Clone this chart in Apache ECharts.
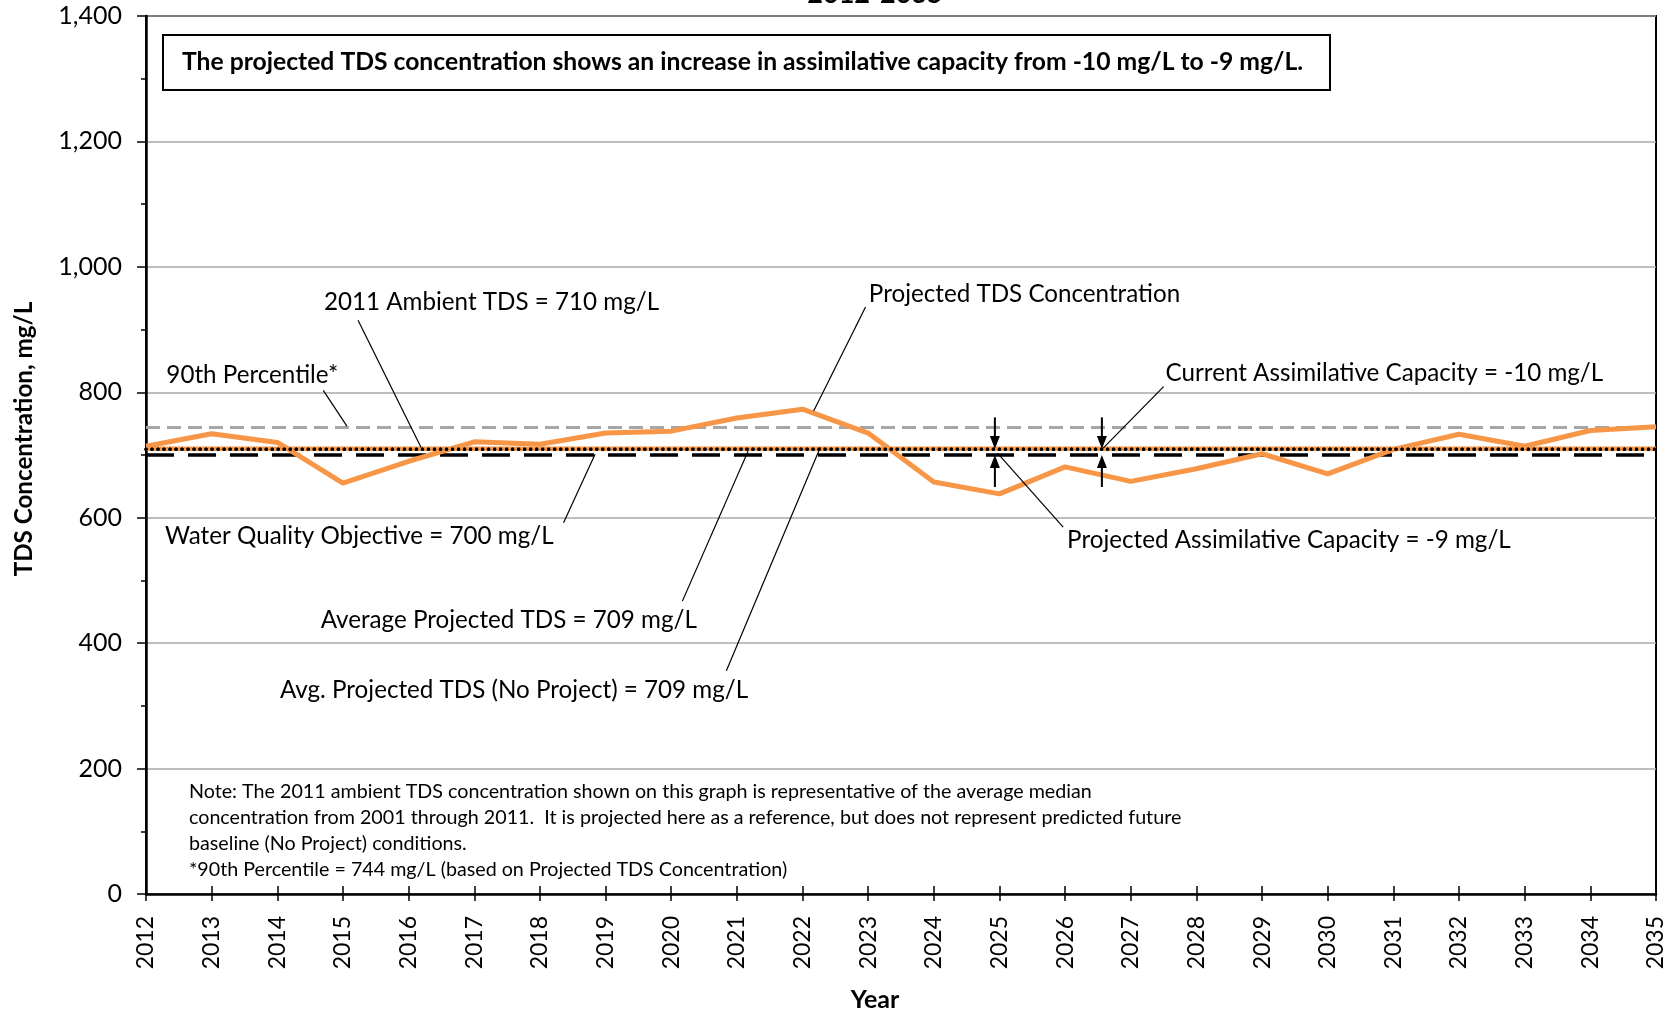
<!DOCTYPE html>
<html><head><meta charset="utf-8">
<script src="https://cdn.jsdelivr.net/npm/echarts@6/dist/echarts.min.js"></script>
<style>html,body{margin:0;padding:0;background:#fff}#c{width:1680px;height:1014px}</style>
</head><body><div id="c"></div>
<script>
// ---------- data ----------
const years = [2012,2013,2014,2015,2016,2017,2018,2019,2020,2021,2022,2023,2024,2025,2026,2027,2028,2029,2030,2031,2032,2033,2034,2035];
const projectedTDS = [714,734,720,655,690,721,717,735,738,759,773,735,657,638,681,658,678,702,670,709,733,714,739,745];
const yTickValues = [0,200,400,600,800,1000,1200,1400];
const percentile90 = 744;
const ambient2011 = 710;
const avgProjected = 709;
const avgNoProject = 709;
const waterQualityObjective = 700;

const chartTitle = '2012-2035';
const xAxisTitle = 'Year';
const yAxisTitle = 'TDS Concentration, mg/L';
const boxText = 'The projected TDS concentration shows an increase in assimilative capacity from -10 mg/L to -9 mg/L.';
const noteLines = [
  'Note: The 2011 ambient TDS concentration shown on this graph is representative of the average median',
  'concentration from 2001 through 2011.  It is projected here as a reference, but does not represent predicted future',
  'baseline (No Project) conditions.',
  '*90th Percentile = 744 mg/L (based on Projected TDS Concentration)'
];
const annotationTexts = [
  '2011 Ambient TDS = 710 mg/L',
  'Projected TDS Concentration',
  '90th Percentile*',
  'Current Assimilative Capacity = -10 mg/L',
  'Water Quality Objective = 700 mg/L',
  'Projected Assimilative Capacity = -9 mg/L',
  'Average Projected TDS = 709 mg/L',
  'Avg. Projected TDS (No Project) = 709 mg/L'
];
// label anchors (left, middle) in data space
const annotationAnchors = [
  [2014.71, 943], [2023.01, 957], [2012.31, 827], [2027.53, 830],
  [2012.29, 570], [2026.03, 564], [2014.66, 436], [2014.04, 325]
];
// leader lines in data space
const leaderLines = [
  [[2015.23, 915], [2016.19, 712]],
  [[2014.70, 803], [2015.06, 746]],
  [[2022.96, 936], [2022.17, 770]],
  [[2018.36, 592], [2018.84, 701]],
  [[2020.17, 467], [2021.17, 706]],
  [[2020.84, 356], [2022.27, 712]],
  [[2027.50, 809], [2026.58, 711]],
  [[2024.97, 703], [2025.97, 585]]
];
// capacity arrows: [year, from, to]
const capacityArrows = [
  [2024.93, 760, 709.5], [2024.93, 649, 700],
  [2026.56, 760, 709.5], [2026.56, 649, 700]
];

// ---------- chart ----------
const FONT = 'Lato';
const chart = echarts.init(document.getElementById('c'), null, {renderer: 'canvas'});
const xMin = years[0], xMax = years[years.length - 1];
const hLine = v => [[xMin, v], [xMax, v]];

const option = {
  animation: false,
  backgroundColor: '#fff',
  grid: {left: 146, right: 24, top: 16, bottom: 120, show: true, borderColor: '#000', borderWidth: 2, containLabel: false},
  xAxis: [{
    type: 'value', min: xMin, max: xMax, interval: 1,
    axisLine: {show: true, onZero: false, lineStyle: {color: '#000', width: 2.5}},
    axisTick: {show: true, inside: false, length: 7, lineStyle: {color: '#000', width: 1.5}},
    axisLabel: {rotate: 90, margin: 22, fontFamily: FONT, fontSize: 23, color: '#000', formatter: v => String(v)},
    splitLine: {show: false}
  }, {
    type: 'value', min: xMin, max: xMax, interval: 1, position: 'bottom',
    axisLine: {show: false},
    axisTick: {show: true, inside: true, length: 8, lineStyle: {color: '#000', width: 1.5}},
    axisLabel: {show: false}, splitLine: {show: false}
  }],
  yAxis: {
    type: 'value', min: yTickValues[0], max: yTickValues[yTickValues.length - 1], interval: 200,
    axisLine: {show: true, onZero: false, lineStyle: {color: '#000', width: 2.5}},
    axisTick: {show: true, inside: false, length: 9, lineStyle: {color: '#000', width: 1.5}},
    minorTick: {show: true, splitNumber: 2, length: 5, lineStyle: {color: '#000', width: 1.5}},
    axisLabel: {margin: 24, fontFamily: FONT, fontSize: 25, color: '#000'},
    splitLine: {show: true, lineStyle: {color: '#A8A8A8', width: 1.5}}
  },
  series: [
    {name: '90th Percentile', type: 'line', data: hLine(percentile90), symbol: 'none', z: 2,
     lineStyle: {color: '#A6A6A6', width: 3, type: [14, 7]}},
    {name: 'Water Quality Objective', type: 'line', data: hLine(waterQualityObjective), symbol: 'none', z: 3,
     lineStyle: {color: '#000', width: 3.5, type: [28, 14]}},
    {name: 'Projected TDS Concentration', type: 'line', data: years.map((y, i) => [y, projectedTDS[i]]), symbol: 'none', z: 4,
     lineStyle: {color: '#F79646', width: 5}},
    {name: '2011 Ambient TDS', type: 'line', data: hLine(ambient2011), symbol: 'none', z: 5,
     lineStyle: {color: '#F79646', width: 4.5}},
    {name: 'Avg. Projected TDS (No Project)', type: 'line', data: hLine(avgNoProject), symbol: 'none', z: 6,
     lineStyle: {color: '#000', width: 3.5, type: [0.01, 6], cap: 'round'}},
    {name: 'Average Projected TDS', type: 'line', data: hLine(avgProjected), symbol: 'none', z: 6,
     lineStyle: {color: '#000', width: 3.5, type: [0.01, 6], cap: 'round'}}
  ]
};
chart.setOption(option);

const px = p => chart.convertToPixel({seriesIndex: 0}, p);
const graphics = [];

// title (clipped at top)
graphics.push({type: 'text', x: 875, y: 8, z: 50, style: {text: chartTitle, fontFamily: FONT, fontWeight: 'bold', fontSize: 27, fill: '#000', align: 'center', verticalAlign: 'bottom'}});
// boxed statement
graphics.push({type: 'rect', shape: {x: 163, y: 35, width: 1167, height: 55}, z: 50, style: {fill: '#fff', stroke: '#000', lineWidth: 2}});
graphics.push({type: 'text', x: 182, y: 62, z: 51, style: {text: boxText, fontFamily: FONT, fontWeight: 'bold', fontSize: 24.7, fill: '#000', align: 'left', verticalAlign: 'middle'}});
// axis titles
graphics.push({type: 'text', x: 875, y: 1000, z: 50, style: {text: xAxisTitle, fontFamily: FONT, fontWeight: 'bold', fontSize: 25, fill: '#000', align: 'center', verticalAlign: 'middle'}});
graphics.push({type: 'text', x: 24, y: 439, rotation: Math.PI / 2, z: 50, style: {text: yAxisTitle, fontFamily: FONT, fontWeight: 'bold', fontSize: 24.2, fill: '#000', align: 'center', verticalAlign: 'middle'}});
// note
graphics.push({type: 'text', x: 189, y: 779, z: 50, style: {text: noteLines.join('\n'), fontFamily: FONT, fontSize: 19.7, lineHeight: 25.8, fill: '#000', align: 'left', verticalAlign: 'top'}});
// annotation labels
annotationTexts.forEach((t, i) => {
  const p = px(annotationAnchors[i]);
  graphics.push({type: 'text', x: p[0], y: p[1], z: 50, style: {text: t, fontFamily: FONT, fontSize: 24.2, fill: '#000', align: 'left', verticalAlign: 'middle'}});
});
// leader lines
leaderLines.forEach(l => {
  const a = px(l[0]), b = px(l[1]);
  graphics.push({type: 'line', z: 40, shape: {x1: a[0], y1: a[1], x2: b[0], y2: b[1]}, style: {stroke: '#000', lineWidth: 1.2}});
});
// arrows
capacityArrows.forEach(ar => {
  const a = px([ar[0], ar[1]]), b = px([ar[0], ar[2]]);
  const dir = Math.sign(b[1] - a[1]);
  const headLen = 13, halfW = 5;
  graphics.push({type: 'line', z: 40, shape: {x1: a[0], y1: a[1], x2: b[0], y2: b[1] - dir * headLen}, style: {stroke: '#000', lineWidth: 2}});
  graphics.push({type: 'polygon', z: 40, shape: {points: [[b[0], b[1]], [b[0] - halfW, b[1] - dir * headLen], [b[0] + halfW, b[1] - dir * headLen]]}, style: {fill: '#000'}});
});
chart.setOption({graphic: graphics});
</script>
</body></html>
